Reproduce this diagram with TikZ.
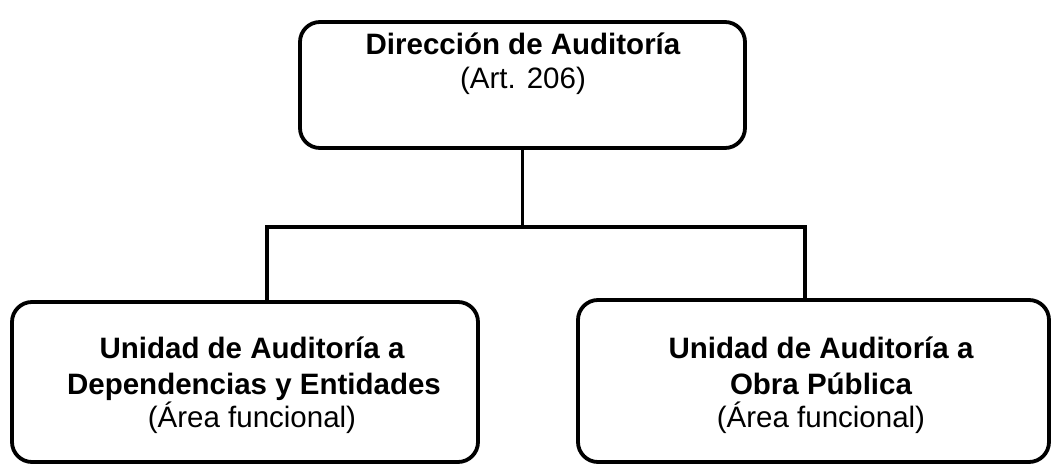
\documentclass[tikz,border=0pt]{standalone}
\usepackage{fontspec}
\setmainfont{Liberation Sans}
\begin{document}
\begin{tikzpicture}[x=1pt,y=-1pt,
  orgbox/.style={draw=black,line width=3.8pt,rounded corners=20pt,inner sep=0pt},
  link/.style={draw=black,line width=3.8pt},
  boldline/.style={font=\fontsize{29.5}{36}\selectfont\bfseries,anchor=base,inner sep=0pt},
  plainline/.style={font=\fontsize{29.5}{36}\selectfont,anchor=base,inner sep=0pt}]
\useasboundingbox (0,0) rectangle (1053,465);
% boxes
\node[orgbox,minimum width=445pt,minimum height=126pt] (top) at (522.5,85) {};
\node[orgbox,minimum width=466pt,minimum height=160pt] (left) at (245,382) {};
\node[orgbox,minimum width=471pt,minimum height=162pt] (right) at (813.5,381) {};
% texts
\node[boldline] (t1) at (523,55) {Dirección de Auditoría};
\node[plainline] (t2) at (523,89) {(Art. 206)};
\node[boldline] (l1) at (252,358) {Unidad de Auditoría a};
\node[boldline] (l2) at (254,394) {Dependencias y Entidades};
\node[plainline] (l3) at (252,427) {(Área funcional)};
\node[boldline] (r1) at (821,358) {Unidad de Auditoría a};
\node[boldline] (r2) at (821,394) {Obra Pública};
\node[plainline] (r3) at (821,427) {(Área funcional)};
% connectors
\coordinate (jl) at (267,227);
\coordinate (jr) at (805,227);
\draw[link] (top.south) -- (top.south |- jl);
\draw[link] (jl |- left.north) -- (jl) -- (jr) -- (jr |- right.north);
\end{tikzpicture}
\end{document}
